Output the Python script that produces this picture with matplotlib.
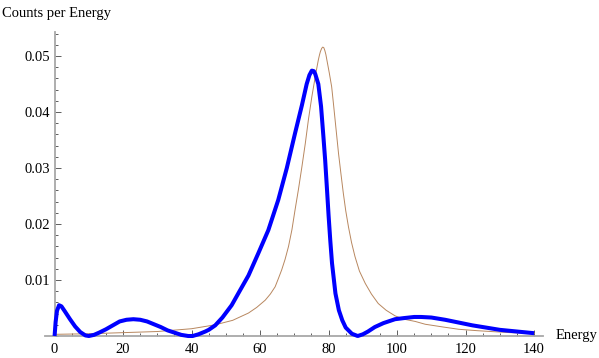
import matplotlib
matplotlib.use("Agg")
import matplotlib.pyplot as plt
from matplotlib.ticker import MultipleLocator, FixedLocator

# thick blue curve
blue_x = [0, 0.3, 0.7, 1.3, 2, 3, 4.5, 6, 7.5, 9, 10, 11.5, 13, 15, 17, 19, 21, 23,
          25, 27, 29, 31, 33, 35, 37, 39, 40.3, 42, 44, 45, 46.9, 49, 51.7, 54,
          56.6, 59.5, 62.4, 65.3, 67.8, 70.2, 72.2, 73.6, 74.4, 75.1, 75.7, 76.1,
          77.0, 77.8, 78.5, 79.0, 79.5, 80.0, 80.5, 81.0, 82.0, 83.0, 84.0, 85.0,
          86.8, 88.5, 90, 91.5, 93.5, 96, 99.4, 102, 105, 107, 110, 114, 118, 122,
          126, 130, 135, 140]
blue_y = [0.0, 0.0025, 0.0045, 0.0055, 0.0053, 0.0044, 0.0030, 0.0017, 0.0007,
          0.0001, 0.0, 0.0002, 0.0006, 0.0012, 0.0019, 0.0026, 0.0029, 0.0030,
          0.0029, 0.0026, 0.0021, 0.0016, 0.0010, 0.0006, 0.0002, 0.0, 0.0,
          0.0003, 0.0008, 0.0011, 0.0019, 0.0033, 0.0055, 0.0080, 0.0108, 0.0148,
          0.0189, 0.0243, 0.0300, 0.0362, 0.0412, 0.0450, 0.0466, 0.0474, 0.0473,
          0.0468, 0.0450, 0.0410, 0.0355, 0.0314, 0.0265, 0.0215, 0.0170, 0.0130,
          0.0076, 0.0046, 0.0028, 0.0015, 0.0004, 0.0, 0.0003, 0.0008, 0.0016,
          0.0023, 0.0030, 0.0032, 0.0034, 0.0034, 0.0033, 0.0029, 0.0024, 0.0019,
          0.0015, 0.0011, 0.0008, 0.0005]

# thin brown curve
brown_x = [0, 10, 20, 30, 40, 46.9, 52, 56.6, 59, 61.5, 63, 64.4, 65.3, 66.3, 67.3,
           68.3, 69.3, 70.2, 71.2, 72.2, 73.2, 74.1, 75.1, 76.1, 76.6, 77.0, 77.3,
           77.6, 78.0, 78.3, 78.6, 78.9, 79.2, 79.5, 80.2, 80.9, 81.4, 81.9, 82.4,
           82.9, 83.6, 84.3, 85.0, 85.8, 86.7, 87.7, 89.0, 90.7, 92.5, 94.5, 96.8,
           99.4, 102, 105.3, 108.2, 113.5, 118, 123.4, 128, 133, 140]
brown_y = [0.0003, 0.0004, 0.0006, 0.0008, 0.0013, 0.0020, 0.0028, 0.0041, 0.0051,
           0.0064, 0.0075, 0.0088, 0.0102, 0.0118, 0.0137, 0.0160, 0.0190, 0.0225,
           0.0262, 0.0302, 0.0344, 0.0386, 0.0427, 0.0463, 0.0480, 0.0493, 0.0501,
           0.0508, 0.0514, 0.0516, 0.0515, 0.0510, 0.0503, 0.0493, 0.0470, 0.0445,
           0.0416, 0.0386, 0.0356, 0.0326, 0.0290, 0.0255, 0.0224, 0.0195, 0.0167,
           0.0142, 0.0116, 0.0094, 0.0075, 0.0058, 0.0046, 0.0036, 0.0030, 0.0026,
           0.0021, 0.0016, 0.0012, 0.00095, 0.00078, 0.0006, 0.00048]

x_ticks = [0, 20, 40, 60, 80, 100, 120, 140]
y_ticks = [0.01, 0.02, 0.03, 0.04, 0.05]

plt.rcParams['font.family'] = ['Liberation Serif', 'DejaVu Serif']

W, H = 599, 358
fig = plt.figure(figsize=(W / 100, H / 100), dpi=100)
ax = fig.add_axes([45 / W, (H - 336) / H, 498 / W, 304 / H])

ax.plot(brown_x, brown_y, color='#b8875f', lw=0.7, clip_on=False, zorder=3)
ax.plot(blue_x, blue_y, color='#0000ff', lw=2.9, clip_on=False, zorder=4,
        solid_capstyle='butt', solid_joinstyle='round')

ax.set_xlim(-2.8, 142.6)
ax.set_ylim(0, 0.0543)

for s in ['top', 'right']:
    ax.spines[s].set_visible(False)
ax.spines['left'].set_position(('data', 0))
ax.spines['left'].set_bounds(0, 0.0543)
for s in ['left', 'bottom']:
    ax.spines[s].set_color('#a8a8a8')
    ax.spines[s].set_linewidth(1.3)

ax.xaxis.set_major_locator(FixedLocator(x_ticks))
ax.xaxis.set_minor_locator(MultipleLocator(5))
ax.yaxis.set_major_locator(FixedLocator(y_ticks))
ax.yaxis.set_minor_locator(MultipleLocator(0.002))
ax.set_xticklabels([str(t) for t in x_ticks])
ax.set_yticklabels(['%.2f' % t for t in y_ticks])

ax.tick_params(which='both', direction='in', color='#444444', width=0.6,
               labelsize=10.5, labelcolor='black')
ax.tick_params(which='major', length=4.5)
ax.tick_params(which='minor', length=2.5)
ax.tick_params(axis='x', pad=5)
ax.tick_params(axis='y', pad=3)

fig.text(2 / W, 1 - 13 / H, 'Counts per Energy', fontsize=10.5, va='center', ha='left')
fig.text(556 / W, 1 - 336 / H, 'Energy', fontsize=10.5, va='center', ha='left')

fig.savefig('out.png', dpi=100)
